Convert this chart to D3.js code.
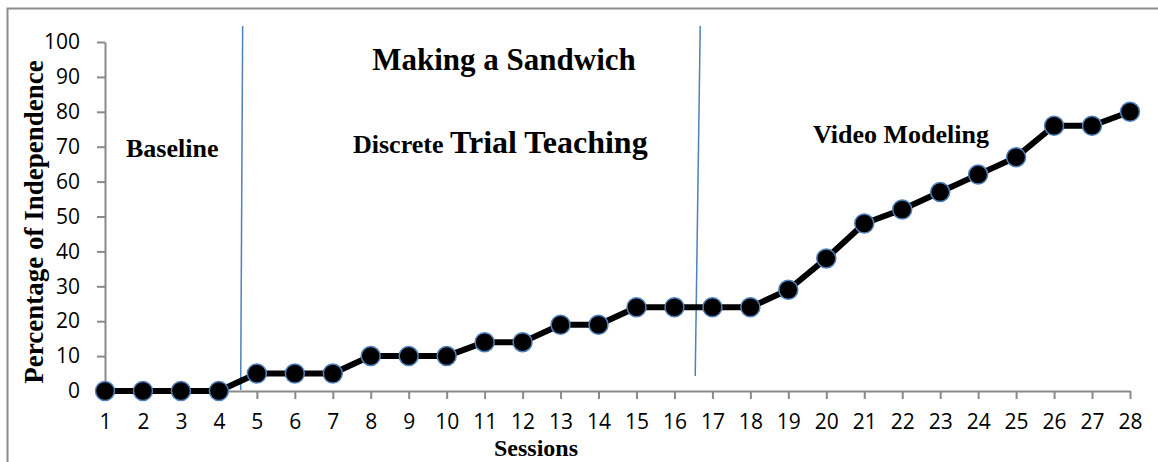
<!DOCTYPE html>
<html>
<head>
<meta charset="utf-8">
<script src="https://cdn.jsdelivr.net/npm/d3@7"></script>
<style>
  body { margin: 0; background: #fff; }
  .tick text { font-family: "Open Sans", "Liberation Sans", sans-serif; font-size: 21px; fill: #000; }
  .ser { font-family: "Liberation Serif", "DejaVu Serif", serif; font-weight: bold; fill: #000; }
</style>
</head>
<body>
<svg width="1158" height="462"></svg>
<script>
var sessions = d3.range(1, 29);
var independence = [0, 0, 0, 0, 5, 5, 5, 10, 10, 10, 14, 14, 19, 19,
                    24, 24, 24, 24, 29, 38, 48, 52, 57, 62, 67, 76, 76, 80];
var yTicks = [0, 10, 20, 30, 40, 50, 60, 70, 80, 90, 100];
// phase change lines sit between these sessions
var phaseBreaks = [4.6, 16.6];

var svg = d3.select("svg");

// outer frame (only top + left visible in the original)
svg.append("rect")
    .attr("x", 7.5).attr("y", 8.5)
    .attr("width", 1200).attr("height", 500)
    .attr("fill", "none")
    .attr("stroke", "#8c8c8c")
    .attr("stroke-width", 2);

var x = d3.scaleLinear().domain([1, 28]).range([105, 1130]);
var y = d3.scaleLinear().domain([0, 100]).range([391, 42]);

svg.append("g")
    .attr("transform", "translate(0,391)")
    .call(d3.axisBottom(x).tickValues(sessions).tickSize(8).tickSizeOuter(0).tickPadding(15));

svg.append("g")
    .attr("transform", "translate(105,0)")
    .call(d3.axisLeft(y).tickValues(yTicks).tickSize(8).tickSizeOuter(0).tickPadding(17));

svg.selectAll(".domain, .tick line")
    .attr("stroke", "#8a8a8a")
    .attr("stroke-width", 2);

// phase change lines (slightly slanted like the hand-drawn originals)
svg.append("line")
    .attr("x1", x(phaseBreaks[0]) + 1).attr("y1", 26)
    .attr("x2", x(phaseBreaks[0]) - 1).attr("y2", 390)
    .attr("stroke", "#4f81bd").attr("stroke-width", 1.5);
svg.append("line")
    .attr("x1", x(phaseBreaks[1]) + 3).attr("y1", 26)
    .attr("x2", x(phaseBreaks[1]) - 2).attr("y2", 376)
    .attr("stroke", "#4f81bd").attr("stroke-width", 1.5);

var line = d3.line()
    .x(function(d, i) { return x(sessions[i]); })
    .y(function(d) { return y(d); });

svg.append("path")
    .datum(independence)
    .attr("d", line)
    .attr("fill", "none")
    .attr("stroke", "#000")
    .attr("stroke-width", 6)
    .attr("stroke-linejoin", "round");

svg.append("g")
  .selectAll("circle")
  .data(independence)
  .enter().append("circle")
    .attr("cx", function(d, i) { return x(sessions[i]); })
    .attr("cy", function(d) { return y(d); })
    .attr("r", 9.5)
    .attr("fill", "#000")
    .attr("stroke", "#4f81bd")
    .attr("stroke-width", 1.5);

// labels
svg.append("text").attr("class", "ser")
    .attr("x", 504).attr("y", 70)
    .attr("text-anchor", "middle")
    .style("font-size", "31px")
    .text("Making a Sandwich");

var dtt = svg.append("text").attr("class", "ser")
    .attr("x", 353).attr("y", 153);
dtt.append("tspan").style("font-size", "26px").text("Discrete ");
dtt.append("tspan").style("font-size", "32px").text("Trial Teaching");

svg.append("text").attr("class", "ser")
    .attr("x", 126).attr("y", 157)
    .style("font-size", "26px")
    .text("Baseline");

svg.append("text").attr("class", "ser")
    .attr("x", 813).attr("y", 143)
    .style("font-size", "26px")
    .text("Video Modeling");

svg.append("text").attr("class", "ser")
    .attr("x", 536).attr("y", 456)
    .attr("text-anchor", "middle")
    .style("font-size", "24px")
    .text("Sessions");

svg.append("text").attr("class", "ser")
    .attr("transform", "translate(43,222) rotate(-90)")
    .attr("text-anchor", "middle")
    .style("font-size", "27px")
    .text("Percentage of Independence");
</script>
</body>
</html>
